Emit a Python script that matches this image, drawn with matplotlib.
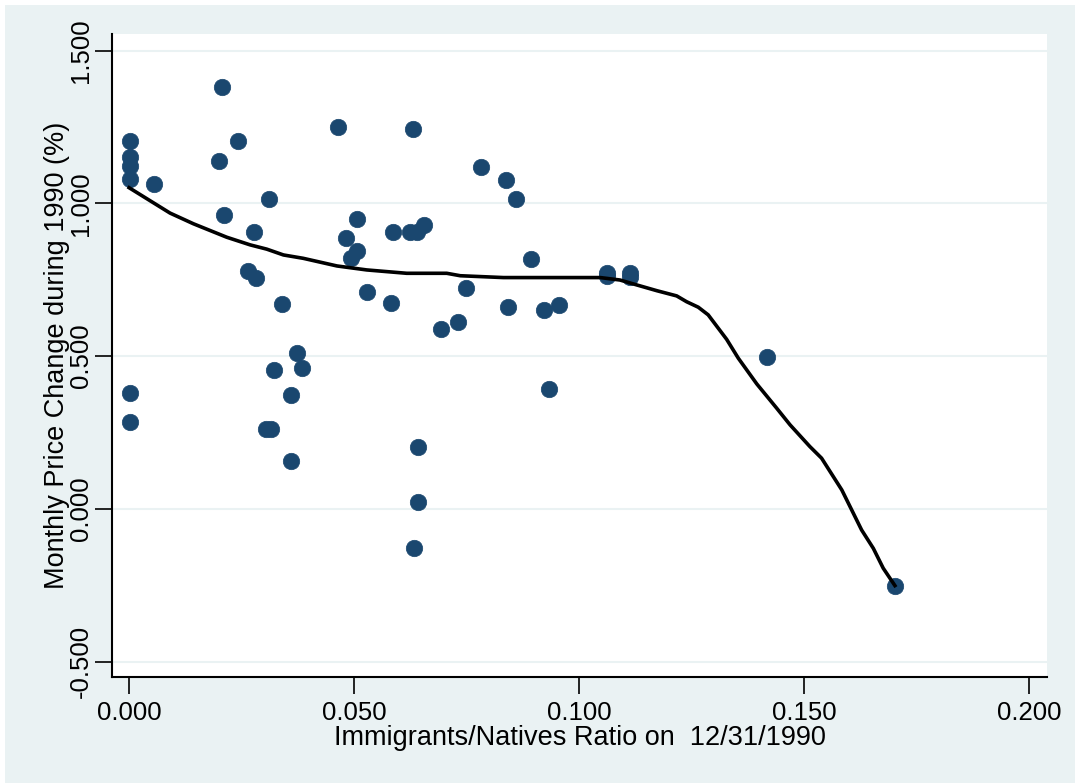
import matplotlib
matplotlib.use("Agg")
import matplotlib.pyplot as plt
from matplotlib.patches import Rectangle

plt.rcParams["font.family"] = ["Liberation Sans", "DejaVu Sans"]

# immigrants/natives ratio and monthly price change (%)
ratio = [
    0.0002, 0.0002, 0.0002, 0.0002, 0.0002, 0.0002, 0.0056,
    0.0200, 0.0206, 0.0210, 0.0243, 0.0265, 0.0278, 0.0281,
    0.0305, 0.0312, 0.0315, 0.0321, 0.0339, 0.0360, 0.0360,
    0.0373, 0.0384, 0.0464, 0.0482, 0.0493, 0.0506, 0.0506,
    0.0528, 0.0583, 0.0587, 0.0624, 0.0630, 0.0634, 0.0639,
    0.0642, 0.0642, 0.0655, 0.0693, 0.0732, 0.0748, 0.0782,
    0.0838, 0.0842, 0.0859, 0.0893, 0.0923, 0.0933, 0.0956,
    0.1063, 0.1063, 0.1114, 0.1114, 0.1417, 0.1702,
]
price_change = [
    1.205, 1.151, 1.123, 1.080, 0.379, 0.284, 1.062,
    1.137, 1.380, 0.962, 1.205, 0.779, 0.905, 0.755,
    0.261, 1.014, 0.261, 0.455, 0.670, 0.373, 0.156,
    0.509, 0.460, 1.249, 0.888, 0.822, 0.949, 0.844,
    0.711, 0.673, 0.905, 0.905, 1.242, -0.129, 0.905,
    0.204, 0.022, 0.929, 0.588, 0.611, 0.723, 1.118,
    1.077, 0.661, 1.014, 0.817, 0.651, 0.392, 0.666,
    0.771, 0.762, 0.771, 0.760, 0.498, -0.251,
]

# lowess smooth
fit_x = [
    0.0, 0.0091, 0.0143, 0.0217, 0.0269, 0.0306, 0.0343, 0.0387,
    0.0462, 0.0528, 0.0617, 0.0706, 0.0736, 0.0832, 0.1047, 0.1091,
    0.1128, 0.1173, 0.1217, 0.1239, 0.1265, 0.1287, 0.1328, 0.1354,
    0.1395, 0.1439, 0.1469, 0.1513, 0.1539, 0.1584, 0.1628, 0.1654,
    0.1676, 0.1702,
]
fit_y = [
    1.051, 0.968, 0.933, 0.889, 0.864, 0.850, 0.831, 0.820,
    0.795, 0.782, 0.771, 0.771, 0.763, 0.757, 0.757, 0.749,
    0.733, 0.714, 0.697, 0.678, 0.660, 0.635, 0.555, 0.493,
    0.409, 0.330, 0.275, 0.204, 0.166, 0.062, -0.069, -0.129,
    -0.194, -0.251,
]

x_ticks = [0.0, 0.05, 0.10, 0.15, 0.20]
y_ticks = [-0.5, 0.0, 0.5, 1.0, 1.5]

bg = "#EAF2F3"
navy = "#1A476F"

W, H = 1075, 783
fig = plt.figure(figsize=(W / 100, H / 100), dpi=100, facecolor="white")
fig.patches.append(Rectangle((5 / W, 0), 1, 1 - 5 / H, transform=fig.transFigure,
                             facecolor=bg, edgecolor="none", zorder=-10))

ax = fig.add_axes([112 / W, 1 - 677 / H, (1047 - 112) / W, (677 - 34) / H])
ax.set_facecolor("white")

ax.scatter(ratio, price_change, s=140, color=navy, edgecolors=navy,
           linewidths=0.5, zorder=3)
ax.plot(fit_x, fit_y, color="black", lw=2.6, zorder=4)

ax.set_xlim(-0.0038, 0.2040)
ax.set_ylim(-0.550, 1.554)

ax.set_xticks(x_ticks)
ax.set_xticklabels([f"{v:.3f}" for v in x_ticks], fontsize=18.5)
ax.set_yticks(y_ticks)
ax.set_yticklabels([f"{v:.3f}" for v in y_ticks], fontsize=18.5,
                   rotation=90, va="center")
ax.tick_params(axis="both", direction="out", length=12, width=1.2,
               color="black", pad=5)
ax.tick_params(axis="y", pad=2)

for y in y_ticks:
    ax.axhline(y, color=bg, lw=1.5, zorder=1)

for side in ["top", "right"]:
    ax.spines[side].set_visible(False)
for side in ["left", "bottom"]:
    ax.spines[side].set_linewidth(1.5)

ax.set_xlabel("Immigrants/Natives Ratio on  12/31/1990", fontsize=19.5, labelpad=0)
ax.set_ylabel("Monthly Price Change during 1990 (%)", fontsize=19.5)
ax.yaxis.set_label_coords((70 - 112) / 935, 0.5)

fig.savefig("out.png", dpi=100, facecolor=fig.get_facecolor())
